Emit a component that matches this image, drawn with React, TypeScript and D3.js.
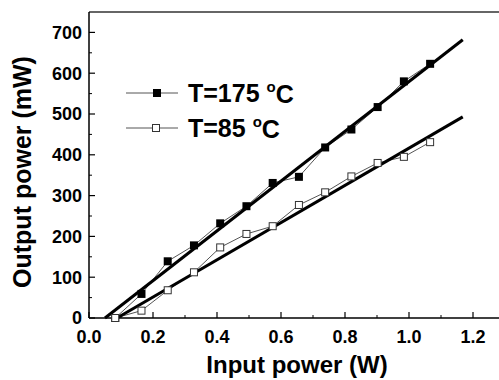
import React from 'react';
import * as d3 from 'd3';

// measured data (input power in W, output power in mW)
const inputPower = [0.082, 0.164, 0.246, 0.328, 0.41, 0.492, 0.574, 0.656, 0.738, 0.82, 0.902, 0.984, 1.066];
const out175 = [0, 59, 139, 178, 232, 274, 331, 346, 418, 462, 517, 580, 623];
const out85 = [0, 18, 68, 112, 173, 206, 225, 277, 308, 347, 380, 395, 431];

// linear fit end points
const fit175X = [0.05, 1.168];
const fit175Y = [0, 682];
const fit85X = [0.0875, 1.168];
const fit85Y = [0, 493];

const xTicks = [0, 0.2, 0.4, 0.6, 0.8, 1.0, 1.2];
const yTicks = [0, 100, 200, 300, 400, 500, 600, 700];
const legendLabels = ['T=175 ', 'T=85 '];

const W = 499;
const H = 380;
const left = 89;
const top = 12;
const bottom = 318;

const App = () => {
  const x = d3.scaleLinear().domain([0, 1.3]).range([left, left + 1.3 * 320]);
  const y = d3.scaleLinear().domain([0, 750]).range([bottom, top]);

  const line = d3.line<[number, number]>()
    .x(d => x(d[0]))
    .y(d => y(d[1]));

  const pts175 = inputPower.map((v, i) => [v, out175[i]] as [number, number]);
  const pts85 = inputPower.map((v, i) => [v, out85[i]] as [number, number]);
  const fitA = fit175X.map((v, i) => [v, fit175Y[i]] as [number, number]);
  const fitB = fit85X.map((v, i) => [v, fit85Y[i]] as [number, number]);

  const minorX = d3.range(0.1, 1.3, 0.2);
  const minorY = d3.range(50, 750, 100);
  const font = 'Arial, "Liberation Sans", sans-serif';

  return (
    <svg width={W} height={H} style={{ position: 'absolute', left: 0, top: 0, background: '#fff' }}
      fontFamily={font}>
      <rect x={0} y={0} width={W} height={H} fill="#fff" />

      {/* axes frame */}
      <line x1={left} x2={W} y1={top} y2={top} stroke="#333" strokeWidth={1.5} />
      <line x1={left} x2={left} y1={top} y2={bottom} stroke="#000" strokeWidth={1.5} />
      <line x1={left} x2={W} y1={bottom} y2={bottom} stroke="#000" strokeWidth={1.5} />

      {xTicks.map(t => (
        <g key={'xt' + t}>
          <line x1={x(t)} x2={x(t)} y1={bottom} y2={bottom - 6} stroke="#000" strokeWidth={1.2} />
          <text x={x(t)} y={343} textAnchor="middle" fontSize={18} fontWeight="bold">{t.toFixed(1)}</text>
        </g>
      ))}
      {minorX.map(t => (
        <line key={'xm' + t} x1={x(t)} x2={x(t)} y1={bottom} y2={bottom - 3} stroke="#000" strokeWidth={1} />
      ))}
      {yTicks.map(t => (
        <g key={'yt' + t}>
          <line x1={left} x2={left + 6} y1={y(t)} y2={y(t)} stroke="#000" strokeWidth={1.2} />
          <text x={82} y={y(t)} dy="0.36em" textAnchor="end" fontSize={18} fontWeight="bold">{t}</text>
        </g>
      ))}
      {minorY.map(t => (
        <line key={'ym' + t} x1={left} x2={left + 3} y1={y(t)} y2={y(t)} stroke="#000" strokeWidth={1} />
      ))}

      <text x={297} y={373} textAnchor="middle" fontSize={24} fontWeight="bold">Input power (W)</text>
      <text transform="translate(31,172) rotate(-90)" textAnchor="middle" fontSize={25} fontWeight="bold">
        Output power (mW)
      </text>

      {/* measured data, thin connecting lines */}
      <path d={line(pts175) || ''} fill="none" stroke="#555" strokeWidth={1} />
      <path d={line(pts85) || ''} fill="none" stroke="#555" strokeWidth={1} />

      {/* linear fits */}
      <path d={line(fitA) || ''} fill="none" stroke="#000" strokeWidth={3} />
      <path d={line(fitB) || ''} fill="none" stroke="#000" strokeWidth={3} />

      {pts175.map((p, i) => (
        <rect key={'a' + i} x={x(p[0]) - 4} y={y(p[1]) - 4} width={8} height={8} fill="#000" />
      ))}
      {pts85.map((p, i) => (
        <rect key={'b' + i} x={x(p[0]) - 3.5} y={y(p[1]) - 3.5} width={7} height={7} fill="#fff" stroke="#333" strokeWidth={1} />
      ))}

      {/* legend */}
      <line x1={126} x2={178} y1={93} y2={93} stroke="#555" strokeWidth={1} />
      <rect x={153} y={89} width={8} height={8} fill="#000" />
      <line x1={126} x2={178} y1={128} y2={128} stroke="#555" strokeWidth={1} />
      <rect x={152.5} y={124.5} width={7} height={7} fill="#fff" stroke="#333" strokeWidth={1} />
      {legendLabels.map((l, i) => (
        <text key={l} x={188} y={93 + i * 35} dy="0.36em" fontSize={25} fontWeight="bold">
          {l}
          <tspan fontSize={15} dy="-0.7em">o</tspan>
          <tspan fontSize={25} dy="0.45em">C</tspan>
        </text>
      ))}
    </svg>
  );
};

export default App;
